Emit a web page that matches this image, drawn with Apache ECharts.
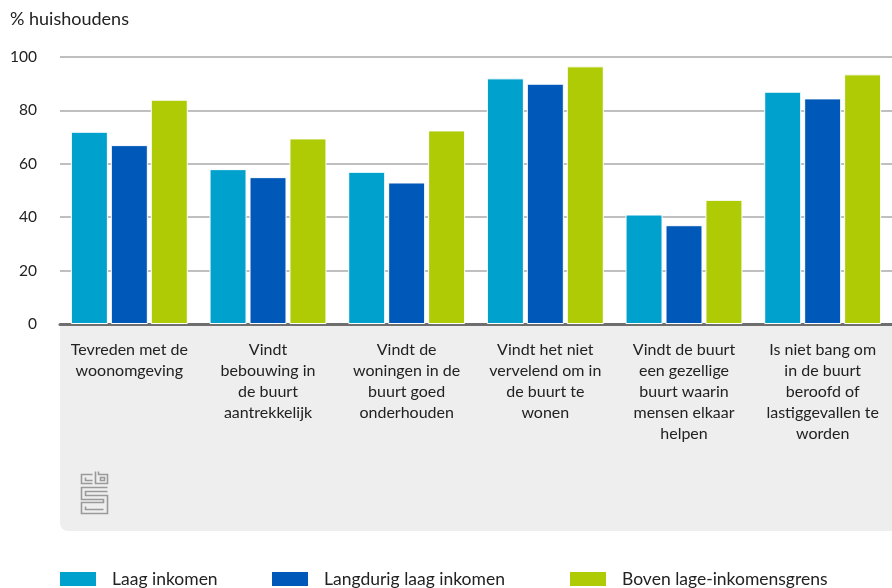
<!DOCTYPE html>
<html><head><meta charset="utf-8">
<script src="https://cdn.jsdelivr.net/npm/echarts@6/dist/echarts.min.js"></script>
<style>html,body{margin:0;padding:0;background:#fff}#c{width:892px;height:588px}</style>
</head><body><div id="c"></div>
<script>
const categories = [
  "Tevreden met de\nwoonomgeving",
  "Vindt\nbebouwing in\nde buurt\naantrekkelijk",
  "Vindt de\nwoningen in de\nbuurt goed\nonderhouden",
  "Vindt het niet\nvervelend om in\nde buurt te\nwonen",
  "Vindt de buurt\neen gezellige\nbuurt waarin\nmensen elkaar\nhelpen",
  "Is niet bang om\nin de buurt\nberoofd of\nlastiggevallen te\nworden"
];
const seriesNames = ["Laag inkomen", "Langdurig laag inkomen", "Boven lage-inkomensgrens"];
const laagInkomen = [72, 58, 57, 92, 41, 87];
const langdurigLaag = [67, 55, 53, 90, 37, 84.5];
const bovenGrens = [84, 69.5, 72.5, 96.5, 46.5, 93.5];
const yTicks = [0, 20, 40, 60, 80, 100];
const colors = ["#00a1cd", "#0058b8", "#afcb05"];
const font = "Lato, 'Noto Sans', sans-serif";

const chart = echarts.init(document.getElementById('c'));
const values = [laagInkomen, langdurigLaag, bovenGrens];
const legendLefts = [53, 265, 563];
chart.setOption({
  animation: false,
  textStyle: { fontFamily: font, color: "#222" },
  graphic: [
    { type: 'rect', z: -10, shape: { x: 60, y: 326, width: 840, height: 205, r: [0, 0, 0, 8] }, style: { fill: '#eeeeee' } },
    { type: 'text', left: 10, top: 10, style: { text: '% huishoudens', fontSize: 18, fill: '#222', fontFamily: font } },
    { type: 'group', left: 79, top: 469, children: [
      { type: 'polyline', shape: { points: [[12,3],[1,3],[1,12],[12,12]] }, style: { stroke: '#9a9a9a', lineWidth: 1.6, fill: null } },
      { type: 'polyline', shape: { points: [[5,6],[5,9],[12,9]] }, style: { stroke: '#9a9a9a', lineWidth: 1.6, fill: null } },
      { type: 'polyline', shape: { points: [[15,0],[15,12],[27,12],[27,3],[18,3],[18,0]] }, style: { stroke: '#9a9a9a', lineWidth: 1.6, fill: null } },
      { type: 'rect', shape: { x: 20, y: 6, width: 4, height: 3 }, style: { stroke: '#9a9a9a', lineWidth: 1.6, fill: null } },
      { type: 'polyline', shape: { points: [[27,16],[1,16],[1,28],[23,28],[23,31],[1,31],[1,42],[27,42],[27,24],[5,24],[5,20],[27,20]] }, style: { stroke: '#9a9a9a', lineWidth: 1.6, fill: null } },
      { type: 'polyline', shape: { points: [[5,35],[5,38],[23,38]] }, style: { stroke: '#9a9a9a', lineWidth: 1.6, fill: null } }
    ]}
  ],
  legend: seriesNames.map((n, i) => ({
    left: legendLefts[i], top: 565, itemWidth: 38, itemHeight: 16,
    icon: 'rect',
    textStyle: { fontSize: 17.5, color: '#222', fontFamily: font, padding: [0, 0, 0, 10] },
    data: [n]
  })),
  grid: { left: 60, right: 0, top: 57, bottom: 264, containLabel: false },
  xAxis: {
    type: 'category', data: categories,
    axisLine: { lineStyle: { color: '#6e6e6e', width: 3 } },
    axisTick: { show: false },
    axisLabel: { interval: 0, margin: 15, fontSize: 16, lineHeight: 21, color: '#222', fontFamily: font }
  },
  yAxis: {
    type: 'value', min: 0, max: 100, interval: 20,
    axisLabel: { margin: 23, fontSize: 15.5, color: '#222', fontFamily: font,
      formatter: v => yTicks.includes(v) ? String(v) : '' },
    splitLine: { lineStyle: { color: '#aaaaaa', width: 1.5 } },
    axisLine: { show: false }, axisTick: { show: false }
  },
  series: seriesNames.map((n, i) => ({
    name: n, type: 'bar', data: values[i],
    barWidth: 37, barGap: '8%',
    itemStyle: { color: colors[i], borderColor: '#ffffff', borderWidth: 1 }
  }))
});
</script></body></html>
